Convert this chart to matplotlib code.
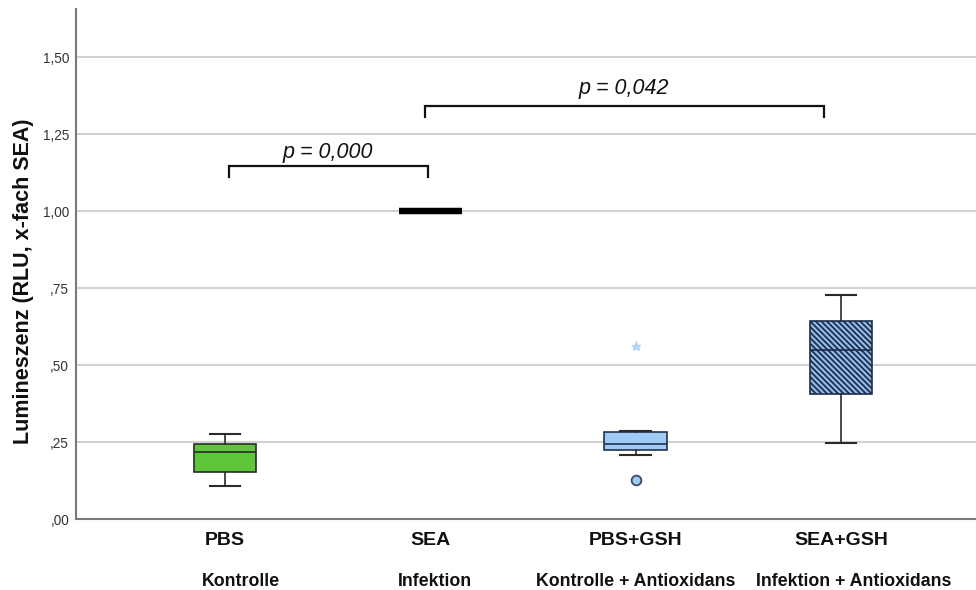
import matplotlib
matplotlib.use("Agg")
import matplotlib.pyplot as plt
from matplotlib.ticker import FixedLocator

plt.rcParams['font.family'] = ['Liberation Sans', 'DejaVu Sans']
plt.rcParams['hatch.linewidth'] = 1.3

# ---- data ----
groups = ["PBS", "SEA", "PBS+GSH", "SEA+GSH"]
subtitles = ["Kontrolle", "Infektion", "Kontrolle + Antioxidans", "Infektion + Antioxidans"]
whislo = [0.108, 1.0, 0.209, 0.249]
q1 = [0.155, 1.0, 0.224, 0.406]
med = [0.218, 1.0, 0.244, 0.549]
q3 = [0.243, 1.0, 0.284, 0.643]
whishi = [0.277, 1.0, 0.286, 0.727]
outliers_circle = [[], [], [0.128], []]
outliers_star = [[], [], [0.564], []]
yticks = [0.0, 0.25, 0.5, 0.75, 1.0, 1.25, 1.5]
ytick_labels = [",00", ",25", ",50", ",75", "1,00", "1,25", "1,50"]
comparisons = [(0, 1, "p = 0,000"), (1, 3, "p = 0,042")]

fills = ["#5fc63b", "#000000", "#9fcaf6", "#95bde9"]
edges = ["#2a2a2a", "#000000", "#24324a", "#1c2e4c"]
subtitle_offsets = [0.078, 0.023, 0.002, 0.064]

fig = plt.figure(figsize=(9.76, 5.9), dpi=100)
ax = fig.add_axes([76 / 976, 1 - 519.3 / 590, 1 - 76 / 976, (519.3 - 9.3) / 590])

stats = []
for i in range(len(groups)):
    stats.append(dict(whislo=whislo[i], q1=q1[i], med=med[i], q3=q3[i],
                      whishi=whishi[i], fliers=[]))

pos = list(range(len(groups)))
bp = ax.bxp(stats, positions=pos, widths=0.304, capwidths=0.15,
            patch_artist=True, showfliers=False, zorder=3,
            boxprops=dict(linewidth=1.2),
            whiskerprops=dict(color="#2a2a2a", linewidth=1.2),
            capprops=dict(color="#2a2a2a", linewidth=1.5),
            medianprops=dict(linewidth=1.2))

for i, box in enumerate(bp['boxes']):
    box.set_facecolor(fills[i])
    box.set_edgecolor(edges[i])
    bp['medians'][i].set_color(edges[i])
bp['boxes'][1].set_linewidth(4.5)
bp['medians'][1].set_linewidth(4.5)
for c in bp['caps'][2:4] + bp['whiskers'][2:4]:
    c.set_visible(False)
bp['boxes'][3].set_hatch('\\\\\\\\\\\\')
bp['boxes'][3].set_edgecolor('#1c2e4c')

for i in range(len(groups)):
    if outliers_circle[i]:
        ax.plot([pos[i]] * len(outliers_circle[i]), outliers_circle[i], 'o',
                ms=7, mfc="#9fcaf6", mec="#3a4a60", mew=1.3, zorder=4)
    if outliers_star[i]:
        ax.plot([pos[i]] * len(outliers_star[i]), outliers_star[i], '*',
                ms=6.5, mfc="#b3d3f5", mec="#b3d3f5", zorder=4)

ax.set_xlim(-0.726, 3.658)
ax.set_ylim(0, 1.656)
ax.yaxis.set_major_locator(FixedLocator(yticks))
ax.set_yticklabels(ytick_labels, fontsize=9.8, color="#333333")
ax.tick_params(axis='y', length=0, pad=5)
ax.set_xticks(pos)
ax.set_xticklabels(groups, fontsize=14, fontweight='bold', color="#111111")
ax.tick_params(axis='x', length=0, pad=9)
ax.grid(axis='y', color="#d2d2d2", linewidth=1.5, zorder=0)
ax.set_axisbelow(True)
for s in ['top', 'right']:
    ax.spines[s].set_visible(False)
for s in ['left', 'bottom']:
    ax.spines[s].set_color("#7a7a7a")
    ax.spines[s].set_linewidth(1.5)

for i, t in enumerate(subtitles):
    ax.text(pos[i] + subtitle_offsets[i], -0.203, t, ha='center', va='center',
            fontsize=12.8, fontweight='bold', color="#111111", clip_on=False)

fig.text(24 / 976, 1 - 281 / 590, "Lumineszenz (RLU, x-fach SEA)", rotation=90,
         ha='center', va='center', fontsize=15.5, fontweight='bold', color="#111111")

# significance brackets
bracket_geo = [(0.021, 0.988, 1.112, 1.147, 0.50, 1.19),
               (0.974, 2.918, 1.307, 1.343, 1.94, 1.40)]
for (a, b, label), (x0, x1, yb, yt, tx, ty) in zip(comparisons, bracket_geo):
    ax.plot([x0, x0, x1, x1], [yb, yt, yt, yb], color="#111111", lw=1.6,
            solid_joinstyle='miter', zorder=5)
    ax.text(tx, ty, label, ha='center', va='center', fontsize=15.5,
            style='italic', color="#111111")

fig.savefig("out.png", dpi=100)
